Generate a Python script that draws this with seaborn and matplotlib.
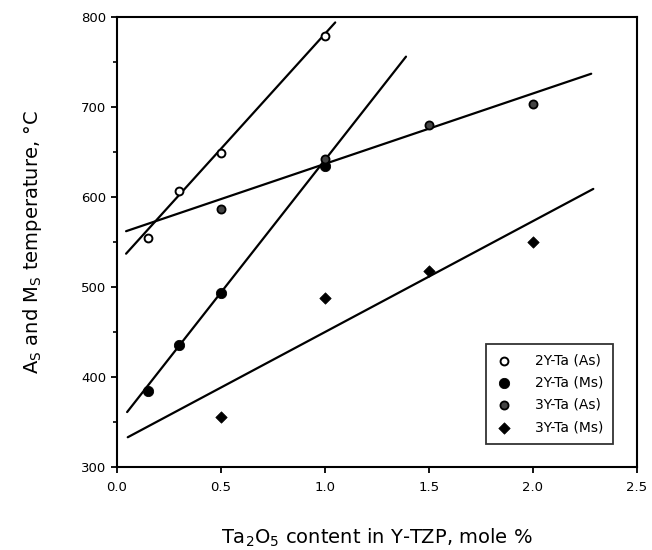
import matplotlib
matplotlib.use("Agg")
import matplotlib.pyplot as plt
import seaborn as sns
from matplotlib.ticker import MultipleLocator, FormatStrFormatter

# puntos medidos (Ta2O5 mol %, temperatura °C)
x_2y_as = [0.15, 0.3, 0.5, 1.0]
y_2y_as = [555, 607, 649, 779]

x_2y_ms = [0.15, 0.3, 0.5, 1.0]
y_2y_ms = [384, 436, 493, 634]

x_3y_as = [0.5, 1.0, 1.5, 2.0]
y_3y_as = [587, 642, 680, 703]

x_3y_ms = [0.5, 1.0, 1.5, 2.0]
y_3y_ms = [356, 488, 518, 550]

# rectas de ajuste (extremos)
fit_2y_as_x = [0.045, 1.05]
fit_2y_as_y = [537, 794]
fit_2y_ms_x = [0.05, 1.39]
fit_2y_ms_y = [361, 756]
fit_3y_as_x = [0.045, 2.28]
fit_3y_as_y = [562, 737]
fit_3y_ms_x = [0.053, 2.29]
fit_3y_ms_y = [333, 609]

sns.set_style("ticks")
plt.rcParams['font.family'] = ['DejaVu Sans']
plt.rcParams['mathtext.fontset'] = 'dejavusans'
plt.rcParams['text.color'] = 'black'
plt.rcParams['axes.labelcolor'] = 'black'

fig = plt.figure(figsize=(6.52, 5.5), dpi=100)
ax = fig.add_axes([0.179, 0.151, 0.798, 0.818])

for fx, fy in [(fit_2y_as_x, fit_2y_as_y), (fit_2y_ms_x, fit_2y_ms_y),
               (fit_3y_as_x, fit_3y_as_y), (fit_3y_ms_x, fit_3y_ms_y)]:
    sns.lineplot(x=fx, y=fy, color="black", linewidth=1.6, ax=ax, legend=False)

sns.scatterplot(x=x_2y_as, y=y_2y_as, marker="o", s=32, facecolor="white",
                edgecolor="black", linewidth=1.4, label="2Y-Ta (As)", ax=ax, zorder=3)
sns.scatterplot(x=x_2y_ms, y=y_2y_ms, marker="o", s=55, color="black",
                edgecolor="black", label="2Y-Ta (Ms)", ax=ax, zorder=3)
sns.scatterplot(x=x_3y_as, y=y_3y_as, marker="o", s=34, facecolor="#444444",
                edgecolor="black", linewidth=1.3, label="3Y-Ta (As)", ax=ax, zorder=3)
sns.scatterplot(x=x_3y_ms, y=y_3y_ms, marker="D", s=34, color="black",
                edgecolor="black", label="3Y-Ta (Ms)", ax=ax, zorder=3)

ax.set_xlim(0, 2.5)
ax.set_ylim(300, 800)
ax.xaxis.set_major_locator(MultipleLocator(0.5))
ax.xaxis.set_major_formatter(FormatStrFormatter("%.1f"))
ax.yaxis.set_major_locator(MultipleLocator(100))
ax.yaxis.set_minor_locator(MultipleLocator(50))
ax.tick_params(which="major", direction="out", length=4, width=1.3,
               labelsize=9.5, color="black", labelcolor="black")
ax.tick_params(which="minor", direction="out", length=3, width=1.2, color="black")
ax.tick_params(axis="x", pad=6)

for sp in ax.spines.values():
    sp.set_visible(True)
    sp.set_linewidth(1.5)
    sp.set_color("black")

ax.set_xlabel(r"Ta$_\mathregular{2}$O$_\mathregular{5}$ content in Y-TZP, mole %",
              fontsize=14, labelpad=24, color="black")
ax.set_ylabel(r"A$_\mathregular{S}$ and M$_\mathregular{S}$ temperature, °C",
              fontsize=14, labelpad=27, color="black")

leg = ax.legend(loc="lower right", bbox_to_anchor=(0.954, 0.051), frameon=True,
                fancybox=False, fontsize=10, handletextpad=1.6, borderpad=0.7,
                labelspacing=0.6, handlelength=1.2, borderaxespad=0, labelcolor="black")
leg.get_frame().set_edgecolor("black")
leg.get_frame().set_linewidth(1.3)

plt.savefig("out.png", dpi=100)
